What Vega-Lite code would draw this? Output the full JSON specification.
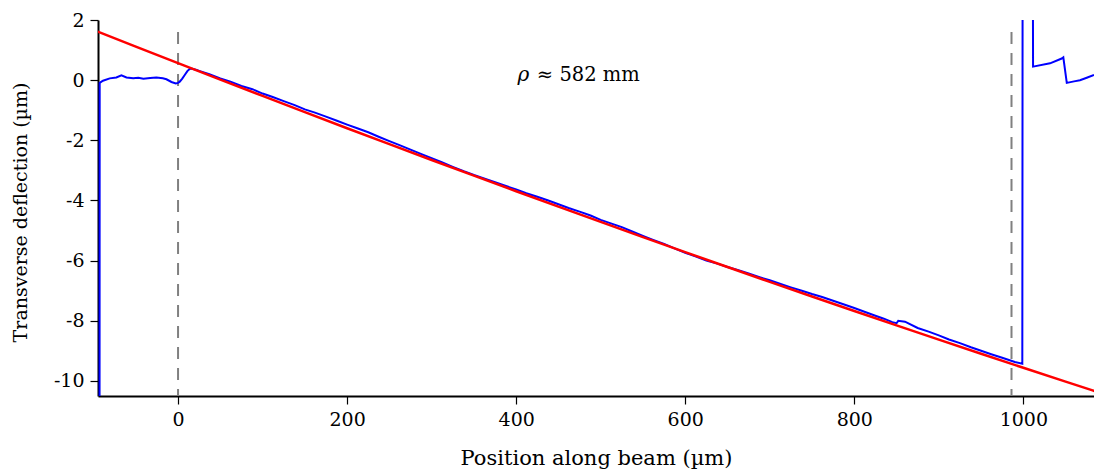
{
  "$schema": "https://vega.github.io/schema/vega-lite/v6.json",
  "autosize": {"type": "none"},
  "width": 996,
  "height": 376,
  "padding": {"left": 98, "top": 20, "right": 0, "bottom": 75},
  "config": {
    "view": {"stroke": null},
    "font": "DejaVu Serif",
    "axis": {
      "grid": false,
      "domainColor": "black",
      "domainWidth": 2,
      "tickColor": "black",
      "tickWidth": 1.2,
      "tickSize": 8,
      "labelColor": "black",
      "labelFont": "DejaVu Serif",
      "labelFontSize": 19,
      "titleFont": "DejaVu Serif",
      "titleFontSize": 19,
      "titleFontWeight": "normal",
      "titleColor": "black"
    }
  },
  "datasets": {
    "blue": [
      {"x": -93, "y": -20}, {"x": -92.7, "y": -0.09}, {"x": -88.8, "y": -0.02}, {"x": -80.8, "y": 0.06},
      {"x": -73, "y": 0.09}, {"x": -67, "y": 0.16}, {"x": -61, "y": 0.09}, {"x": -53, "y": 0.06},
      {"x": -47, "y": 0.08}, {"x": -41, "y": 0.05}, {"x": -33, "y": 0.07}, {"x": -25.6, "y": 0.09},
      {"x": -18, "y": 0.06}, {"x": -13.7, "y": 0.03}, {"x": -7.8, "y": -0.06}, {"x": -2.7, "y": -0.11},
      {"x": 0, "y": -0.09}, {"x": 2, "y": -0.05}, {"x": 5, "y": 0.05}, {"x": 7.9, "y": 0.17},
      {"x": 11, "y": 0.3}, {"x": 14, "y": 0.38}, {"x": 17, "y": 0.38}, {"x": 22, "y": 0.34},
      {"x": 25, "y": 0.31}, {"x": 37, "y": 0.2}, {"x": 50, "y": 0.058}, {"x": 62, "y": -0.05}, {"x": 75, "y": -0.194}, {"x": 88, "y": -0.3}, {"x": 100, "y": -0.445},
      {"x": 112, "y": -0.56}, {"x": 125, "y": -0.695}, {"x": 138, "y": -0.83}, {"x": 150, "y": -0.973}, {"x": 162, "y": -1.08}, {"x": 175, "y": -1.211}, {"x": 188, "y": -1.35}, {"x": 200, "y": -1.478},
      {"x": 212, "y": -1.6}, {"x": 225, "y": -1.733}, {"x": 238, "y": -1.89}, {"x": 250, "y": -2.028}, {"x": 262, "y": -2.16}, {"x": 275, "y": -2.311}, {"x": 288, "y": -2.46}, {"x": 300, "y": -2.593},
      {"x": 312, "y": -2.73}, {"x": 325, "y": -2.884}, {"x": 338, "y": -3.03}, {"x": 350, "y": -3.155}, {"x": 362, "y": -3.27}, {"x": 375, "y": -3.394}, {"x": 388, "y": -3.52}, {"x": 400, "y": -3.632},
      {"x": 412, "y": -3.76}, {"x": 425, "y": -3.878}, {"x": 438, "y": -4.0}, {"x": 450, "y": -4.124}, {"x": 462, "y": -4.25}, {"x": 475, "y": -4.369}, {"x": 488, "y": -4.5}, {"x": 500, "y": -4.643},
      {"x": 512, "y": -4.76}, {"x": 525, "y": -4.885}, {"x": 538, "y": -5.04}, {"x": 550, "y": -5.177}, {"x": 562, "y": -5.31}, {"x": 575, "y": -5.447}, {"x": 588, "y": -5.6}, {"x": 600, "y": -5.737},
      {"x": 612, "y": -5.86}, {"x": 625, "y": -5.995}, {"x": 638, "y": -6.1}, {"x": 650, "y": -6.212}, {"x": 662, "y": -6.31}, {"x": 675, "y": -6.429}, {"x": 688, "y": -6.55}, {"x": 700, "y": -6.654},
      {"x": 712, "y": -6.77}, {"x": 725, "y": -6.888}, {"x": 738, "y": -7.0}, {"x": 750, "y": -7.111}, {"x": 762, "y": -7.21}, {"x": 775, "y": -7.332}, {"x": 788, "y": -7.46}, {"x": 800, "y": -7.573},
      {"x": 812, "y": -7.7}, {"x": 825, "y": -7.833}, {"x": 835, "y": -7.93}, {"x": 845, "y": -8.044}, {"x": 850, "y": -8.08}, {"x": 852, "y": -8.0},
      {"x": 860, "y": -8.03}, {"x": 875, "y": -8.239}, {"x": 888, "y": -8.36}, {"x": 900, "y": -8.486}, {"x": 912, "y": -8.62}, {"x": 925, "y": -8.741}, {"x": 938, "y": -8.88},
      {"x": 950, "y": -8.996}, {"x": 962, "y": -9.11}, {"x": 975, "y": -9.229}, {"x": 990, "y": -9.368}, {"x": 998.8, "y": -9.43},
      {"x": 999.2, "y": 6}, {"x": 1011.1, "y": 6}, {"x": 1011.5, "y": 0.45}, {"x": 1031.6, "y": 0.56},
      {"x": 1045.4, "y": 0.72}, {"x": 1047.3, "y": 0.76}, {"x": 1051.4, "y": -0.09}, {"x": 1060, "y": -0.04},
      {"x": 1067, "y": 0.0}, {"x": 1075, "y": 0.08}, {"x": 1083.6, "y": 0.17}
    ],
    "red": [
      {"x": -95, "y": 1.616}, {"x": -50, "y": 1.117}, {"x": 0, "y": 0.565}, {"x": 50, "y": 0.018},
      {"x": 100, "y": -0.525}, {"x": 150, "y": -1.063}, {"x": 200, "y": -1.598}, {"x": 250, "y": -2.128},
      {"x": 300, "y": -2.653}, {"x": 350, "y": -3.175}, {"x": 400, "y": -3.692}, {"x": 450, "y": -4.204},
      {"x": 500, "y": -4.713}, {"x": 550, "y": -5.217}, {"x": 600, "y": -5.717}, {"x": 650, "y": -6.212},
      {"x": 700, "y": -6.704}, {"x": 750, "y": -7.191}, {"x": 800, "y": -7.673}, {"x": 850, "y": -8.152},
      {"x": 900, "y": -8.626}, {"x": 950, "y": -9.096}, {"x": 1000, "y": -9.561}, {"x": 1050, "y": -10.022},
      {"x": 1084, "y": -10.333}
    ],
    "vlines": [
      {"x": 0, "y": 1.6, "y2": -10.5},
      {"x": 986, "y": 1.6, "y2": -10.5}
    ]
  },
  "layer": [
    {
      "data": {"name": "vlines"},
      "mark": {"type": "rule", "color": "#808080", "strokeWidth": 2, "strokeDash": [12, 9]},
      "encoding": {
        "x": {"field": "x", "type": "quantitative"},
        "y": {"field": "y", "type": "quantitative"},
        "y2": {"field": "y2"}
      }
    },
    {
      "data": {"name": "blue"},
      "mark": {"type": "line", "color": "#0000ff", "strokeWidth": 2, "clip": true},
      "encoding": {
        "x": {"field": "x", "type": "quantitative"},
        "y": {"field": "y", "type": "quantitative"}
      }
    },
    {
      "data": {"name": "red"},
      "mark": {"type": "line", "color": "#ff0000", "strokeWidth": 2.5, "clip": true, "interpolate": "monotone"},
      "encoding": {
        "x": {
          "field": "x", "type": "quantitative",
          "scale": {"domain": [-94.7, 1083.6], "nice": false, "zero": false},
          "axis": {"values": [0, 200, 400, 600, 800, 1000], "labelExpr": "'' + datum.value", "title": "Position along beam (µm)", "titleFontSize": 21, "labelPadding": 6, "titleY": 62, "titleBaseline": "middle"}
        },
        "y": {
          "field": "y", "type": "quantitative",
          "scale": {"domain": [-10.5, 2], "nice": false, "zero": false},
          "axis": {"values": [-10, -8, -6, -4, -2, 0, 2], "labelExpr": "'' + datum.value", "title": "Transverse deflection (µm)", "labelPadding": 6, "titleX": -78, "titleY": 192, "titleAlign": "center", "titleBaseline": "middle", "titleAngle": -90}
        }
      }
    },
    {
      "data": {"values": [{"x": 408.6, "y": 0.17, "t": "ρ"}]},
      "mark": {"type": "text", "fontSize": 20, "fontStyle": "italic", "font": "DejaVu Serif", "color": "black", "align": "center", "baseline": "middle"},
      "encoding": {
        "x": {"field": "x", "type": "quantitative"},
        "y": {"field": "y", "type": "quantitative"},
        "text": {"field": "t"}
      }
    },
    {
      "data": {"values": [{"x": 424.5, "y": 0.17, "t": "≈ 582 mm"}]},
      "mark": {"type": "text", "fontSize": 19.5, "font": "DejaVu Serif", "color": "black", "align": "left", "baseline": "middle"},
      "encoding": {
        "x": {"field": "x", "type": "quantitative"},
        "y": {"field": "y", "type": "quantitative"},
        "text": {"field": "t"}
      }
    }
  ]
}
